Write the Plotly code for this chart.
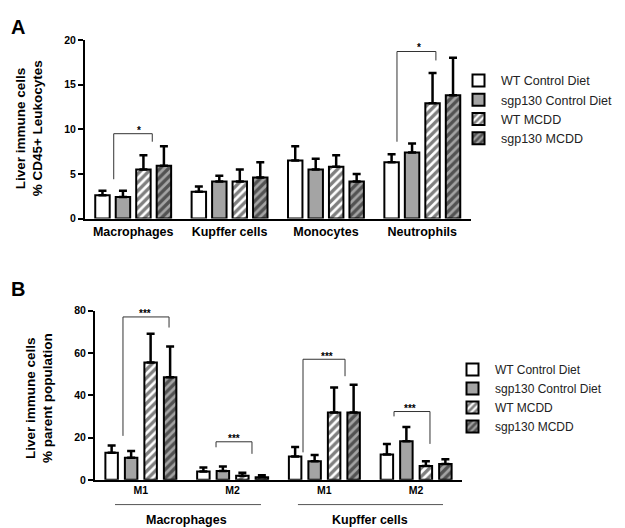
import plotly.graph_objects as go

# ---------------- data ----------------
series = ["WT Control Diet", "sgp130 Control Diet", "WT MCDD", "sgp130 MCDD"]

groups_a = ["Macrophages", "Kupffer cells", "Monocytes", "Neutrophils"]
a_means = {
    "WT Control Diet":     [2.6, 3.0, 6.5, 6.3],
    "sgp130 Control Diet": [2.4, 4.15, 5.5, 7.4],
    "WT MCDD":             [5.5, 4.15, 5.8, 12.9],
    "sgp130 MCDD":         [5.9, 4.6, 4.15, 13.8],
}
a_tops = {  # mean + SD (top of error bar)
    "WT Control Diet":     [3.1, 3.6, 8.1, 7.2],
    "sgp130 Control Diet": [3.1, 4.8, 6.7, 8.4],
    "WT MCDD":             [7.1, 5.5, 7.1, 16.3],
    "sgp130 MCDD":         [8.1, 6.3, 5.0, 18.0],
}

groups_b_ticks = ["M1", "M2", "M1", "M2"]
groups_b_parents = ["Macrophages", "Kupffer cells"]
b_means = {
    "WT Control Diet":     [12.8, 4.0, 11.0, 12.0],
    "sgp130 Control Diet": [10.5, 4.2, 8.8, 18.3],
    "WT MCDD":             [55.5, 2.0, 31.8, 6.6],
    "sgp130 MCDD":         [48.5, 1.2, 31.8, 7.5],
}
b_tops = {
    "WT Control Diet":     [16.3, 5.8, 15.5, 17.0],
    "sgp130 Control Diet": [13.7, 6.3, 11.8, 25.0],
    "WT MCDD":             [69.0, 3.4, 43.7, 8.8],
    "sgp130 MCDD":         [63.0, 2.2, 45.0, 9.8],
}

a_ticks = [0, 5, 10, 15, 20]
b_ticks = [0, 20, 40, 60, 80]

# ---------------- styles ----------------
GRAY = "#a4a4a4"
styles = {
    "WT Control Diet":     dict(color="white", shape=""),
    "sgp130 Control Diet": dict(color=GRAY, shape=""),
    "WT MCDD":             dict(color="white", shape="/"),
    "sgp130 MCDD":         dict(color=GRAY, shape="/"),
}
SLOT = 0.2125
FONT = "Liberation Sans, Arial, sans-serif"

fig = go.Figure()

def add_bars(means, tops, xaxis, yaxis, legend, width):
    n = len(series)
    for i, s in enumerate(series):
        vals = means[s]
        xs = list(range(len(vals)))
        st = styles[s]
        marker = dict(color=st["color"], line=dict(color="black", width=2))
        if st["shape"]:
            marker["pattern"] = dict(shape=st["shape"], fgcolor="black", bgcolor=st["color"],
                                     size=6, solidity=0.55)
        center = (i - (n - 1) / 2) * SLOT
        fig.add_trace(go.Bar(
            x=xs, y=vals, name=s, width=width, offset=center - width / 2,
            marker=marker, xaxis=xaxis, yaxis=yaxis, legend=legend,
            error_y=dict(type="data", symmetric=False,
                         array=[t - v for t, v in zip(tops[s], vals)],
                         arrayminus=[0] * len(vals),
                         color="black", thickness=2.5, width=4),
        ))

add_bars(a_means, a_tops, "x", "y", "legend", 0.15)
add_bars(b_means, b_tops, "x2", "y2", "legend2", 0.136)

axis_common = dict(showline=True, linecolor="black", linewidth=2, showgrid=False,
                   zeroline=False)
fig.update_layout(
    width=625, height=528, margin=dict(l=0, r=0, t=0, b=0),
    paper_bgcolor="white", plot_bgcolor="white", barmode="overlay",
    font=dict(family=FONT, color="black"),
    xaxis=dict(domain=[77/625, 462.5/625], range=[-0.5, 3.5], anchor="y",
               tickvals=list(range(len(groups_a))), ticktext=groups_a, ticks="",
               tickfont=dict(size=12.5, family=FONT, weight="bold"), **axis_common),
    yaxis=dict(domain=[1-209.3/528, 1-26.5/528], range=[0, 20], anchor="x",
               tickvals=a_ticks, ticks="outside", ticklen=5, tickwidth=2,
               tickcolor="black", tickfont=dict(size=10.5, family=FONT, weight="bold"),
               **axis_common),
    xaxis2=dict(domain=[87/625, 454/625], range=[-0.5, 3.5], anchor="y2",
                tickvals=list(range(len(groups_b_ticks))), ticktext=groups_b_ticks,
                ticks="", tickfont=dict(size=10.5, family=FONT, weight="bold"),
                **axis_common),
    yaxis2=dict(domain=[1-476.7/528, 1-303.5/528], range=[0, 80], anchor="x2",
                tickvals=b_ticks, ticks="outside", ticklen=5, tickwidth=2,
                tickcolor="black", tickfont=dict(size=10.5, family=FONT, weight="bold"),
                **axis_common),
    legend=dict(x=448/625, y=1-53/528, xanchor="left", yanchor="top",
                font=dict(size=12.5, family=FONT, color="#222"), itemwidth=35,
                bgcolor="rgba(0,0,0,0)", tracegroupgap=0),
    legend2=dict(x=442/625, y=1-349/528, xanchor="left", yanchor="top",
                 font=dict(size=12, family=FONT, color="#222"), itemwidth=35,
                 bgcolor="rgba(0,0,0,0)", tracegroupgap=0),
)

shapes = []
annotations = []

def bracket(xref, yref, xl, yl, xr, yr, ytop, star, xs, ys):
    shapes.append(dict(type="path", xref=xref, yref=yref,
                       path=f"M {xl},{yl} L {xl},{ytop} L {xr},{ytop} L {xr},{yr}",
                       line=dict(color="#333", width=1)))
    annotations.append(dict(x=xs, y=ys, xref=xref, yref=yref, text=star,
                            showarrow=False, font=dict(size=10, family=FONT, weight="bold"),
                            yanchor="middle"))

# Panel A significance
bracket("x", "y", -0.202, 4.4, 0.198, 8.6, 9.5, "*", 0.057, 9.9)
bracket("x", "y", 2.737, 8.6, 3.141, 17.7, 18.7, "*", 2.964, 19.1)
# Panel B significance
bracket("x2", "y2", -0.195, 20.8, 0.307, 72, 77, "***", 0.045, 78.5)
bracket("x2", "y2", 0.819, 15.4, 1.211, 12.3, 18, "***", 1.015, 19.5)
bracket("x2", "y2", 1.767, 13, 2.225, 49, 57, "***", 2.029, 58.5)
bracket("x2", "y2", 2.759, 30, 3.151, 17, 32.3, "***", 2.933, 33.8)

# Panel B parent group lines and labels
for (x0, x1), lab, xc in zip([(-0.282, 1.309), (1.712, 3.293)], groups_b_parents, [0.5, 2.5]):
    shapes.append(dict(type="line", xref="x2", yref="paper", x0=x0, x1=x1,
                       y0=1-502/528, y1=1-502/528, line=dict(color="#555", width=1)))
    annotations.append(dict(x=xc, y=1-518/528, xref="x2", yref="paper", text=lab,
                            showarrow=False, font=dict(size=12.5, family=FONT, weight="bold"),
                            yanchor="middle"))

# Axis titles
for txt, x, y in [("Liver immune cells", 12, 117), ("% CD45+ Leukocytes", 29, 117),
                  ("Liver immune cells", 22, 393), ("% parent population", 39, 393)]:
    annotations.append(dict(x=x/625, y=1-y/528, xref="paper", yref="paper", text=txt,
                            textangle=-90, showarrow=False,
                            font=dict(size=13.5, family=FONT, weight="bold"),
                            xanchor="center", yanchor="middle"))

# Panel letters
for txt, y in [("A", 13), ("B", 281)]:
    annotations.append(dict(x=10/625, y=1-y/528, xref="paper", yref="paper", text=txt,
                            showarrow=False, font=dict(size=20, family=FONT, weight="bold"),
                            xanchor="center", yanchor="middle"))

fig.update_layout(shapes=shapes, annotations=annotations)
fig.write_html("out.html")
